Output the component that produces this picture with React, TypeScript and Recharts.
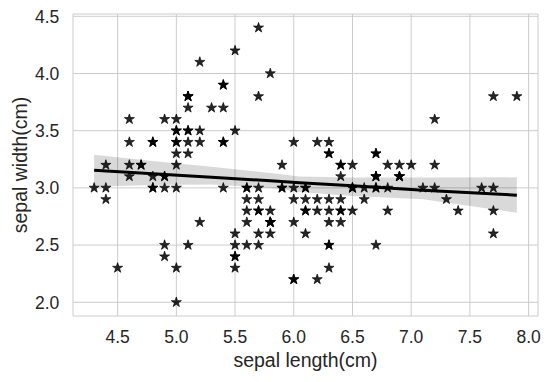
import React from "react";
import {
  ComposedChart,
  Scatter,
  Line,
  Area,
  XAxis,
  YAxis,
  CartesianGrid,
  ReferenceArea,
} from "recharts";

// Iris: sepal length / sepal width
const sepalLength = [
  5.1, 4.9, 4.7, 4.6, 5.0, 5.4, 4.6, 5.0, 4.4, 4.9, 5.4, 4.8, 4.8, 4.3, 5.8, 5.7, 5.4, 5.1, 5.7, 5.1,
  5.4, 5.1, 4.6, 5.1, 4.8, 5.0, 5.0, 5.2, 5.2, 4.7, 4.8, 5.4, 5.2, 5.5, 4.9, 5.0, 5.5, 4.9, 4.4, 5.1,
  5.0, 4.5, 4.4, 5.0, 5.1, 4.8, 5.1, 4.6, 5.3, 5.0,
  7.0, 6.4, 6.9, 5.5, 6.5, 5.7, 6.3, 4.9, 6.6, 5.2, 5.0, 5.9, 6.0, 6.1, 5.6, 6.7, 5.6, 5.8, 6.2, 5.6,
  5.9, 6.1, 6.3, 6.1, 6.4, 6.6, 6.8, 6.7, 6.0, 5.7, 5.5, 5.5, 5.8, 6.0, 5.4, 6.0, 6.7, 6.3, 5.6, 5.5,
  5.5, 6.1, 5.8, 5.0, 5.6, 5.7, 5.7, 6.2, 5.1, 5.7,
  6.3, 5.8, 7.1, 6.3, 6.5, 7.6, 4.9, 7.3, 6.7, 7.2, 6.5, 6.4, 6.8, 5.7, 5.8, 6.4, 6.5, 7.7, 7.7, 6.0,
  6.9, 5.6, 7.7, 6.3, 6.7, 7.2, 6.2, 6.1, 6.4, 7.2, 7.4, 7.9, 6.4, 6.3, 6.1, 7.7, 6.3, 6.4, 6.0, 6.9,
  6.7, 6.9, 5.8, 6.8, 6.7, 6.7, 6.3, 6.5, 6.2, 5.9,
];
const sepalWidth = [
  3.5, 3.0, 3.2, 3.1, 3.6, 3.9, 3.4, 3.4, 2.9, 3.1, 3.7, 3.4, 3.0, 3.0, 4.0, 4.4, 3.9, 3.5, 3.8, 3.8,
  3.4, 3.7, 3.6, 3.3, 3.4, 3.0, 3.4, 3.5, 3.4, 3.2, 3.1, 3.4, 4.1, 4.2, 3.1, 3.2, 3.5, 3.6, 3.0, 3.4,
  3.5, 2.3, 3.2, 3.5, 3.8, 3.0, 3.8, 3.2, 3.7, 3.3,
  3.2, 3.2, 3.1, 2.3, 2.8, 2.8, 3.3, 2.4, 2.9, 2.7, 2.0, 3.0, 2.2, 2.9, 2.9, 3.1, 3.0, 2.7, 2.2, 2.5,
  3.2, 2.8, 2.5, 2.8, 2.9, 3.0, 2.8, 3.0, 2.9, 2.6, 2.4, 2.4, 2.7, 2.7, 3.0, 3.4, 3.1, 2.3, 3.0, 2.5,
  2.6, 3.0, 2.6, 2.3, 2.7, 3.0, 2.9, 2.9, 2.5, 2.8,
  3.3, 2.7, 3.0, 2.9, 3.0, 3.0, 2.5, 2.9, 2.5, 3.6, 3.2, 2.7, 3.0, 2.5, 2.8, 3.2, 3.0, 3.8, 2.6, 2.2,
  3.2, 2.8, 2.8, 2.7, 3.3, 3.2, 2.8, 3.0, 2.8, 3.0, 2.8, 3.8, 2.8, 2.8, 2.6, 3.0, 3.4, 3.1, 3.0, 3.1,
  3.1, 3.1, 2.7, 3.2, 3.3, 3.0, 2.5, 3.0, 3.4, 3.0,
];

// Regression line and confidence band
const bandX = [4.3, 4.8, 5.3, 5.8, 6.05, 6.5, 7.1, 7.9];
const bandLow = [3.01, 3.025, 3.03, 3.0, 2.965, 2.93, 2.9, 2.783];
const bandHigh = [3.29, 3.235, 3.185, 3.13, 3.1, 3.09, 3.09, 3.092];
const fitY = [3.155, 3.124, 3.093, 3.062, 3.045, 3.018, 2.98, 2.936];

const xTicks = [4.5, 5.0, 5.5, 6.0, 6.5, 7.0, 7.5, 8.0];
const yTicks = [2.0, 2.5, 3.0, 3.5, 4.0, 4.5];

const points = sepalLength.map((x, i) => ({ x, y: sepalWidth[i] }));
const bandData = bandX.map((x, i) => ({
  x,
  range: [bandLow[i], bandHigh[i]],
  fit: fitY[i],
}));

const FONT = '"Liberation Sans", Arial, sans-serif';
const TEXT = "#262626";
const TICK_FS = 17.5;

const Star = (props: any) => {
  const { cx, cy } = props;
  if (cx == null || cy == null) return null;
  const R = 5.3;
  const r = R * 0.382;
  const pts: string[] = [];
  for (let k = 0; k < 10; k++) {
    const rad = k % 2 === 0 ? R : r;
    const a = -Math.PI / 2 + (k * Math.PI) / 5;
    pts.push(`${cx + rad * Math.cos(a)},${cy + rad * Math.sin(a)}`);
  }
  return (
    <polygon
      points={pts.join(" ")}
      fill="#000"
      fillOpacity={0.85}
      stroke="#000"
      strokeOpacity={0.85}
      strokeWidth={0.8}
      strokeLinejoin="round"
    />
  );
};

const XTick = (props: any) => {
  const { x, payload } = props;
  return (
    <text
      x={x}
      y={343.3}
      textAnchor="middle"
      fontFamily={FONT}
      fontSize={TICK_FS}
      fill={TEXT}
    >
      {Number(payload.value).toFixed(1)}
    </text>
  );
};

const YTick = (props: any) => {
  const { y, payload } = props;
  return (
    <text
      x={59.3}
      y={y + 6.3}
      textAnchor="end"
      fontFamily={FONT}
      fontSize={TICK_FS}
      fill={TEXT}
    >
      {Number(payload.value).toFixed(1)}
    </text>
  );
};

const XLabel = (props: any) => {
  const vb = props.viewBox || {};
  return (
    <text
      x={vb.x + vb.width / 2}
      y={367}
      textAnchor="middle"
      fontFamily={FONT}
      fontSize={19.5}
      fill={TEXT}
    >
      sepal length(cm)
    </text>
  );
};

const YLabel = (props: any) => {
  const vb = props.viewBox || {};
  const cy = vb.y + vb.height / 2;
  return (
    <text
      x={27}
      y={cy}
      transform={`rotate(-90, 27, ${cy})`}
      textAnchor="middle"
      fontFamily={FONT}
      fontSize={19.5}
      fill={TEXT}
    >
      sepal width(cm)
    </text>
  );
};

export default function App() {
  return (
    <div style={{ position: "absolute", left: 0, top: 0, background: "#fff" }}>
      <ComposedChart
        width={551}
        height={382}
        data={bandData}
        margin={{ top: 14, right: 13, bottom: 0, left: 0 }}
      >
        <CartesianGrid stroke="#cccccc" strokeWidth={1} />
        <XAxis
          type="number"
          dataKey="x"
          domain={[4.12, 8.08]}
          ticks={xTicks}
          allowDataOverflow
          height={66}
          axisLine={false}
          tickLine={false}
          tick={<XTick />}
          label={<XLabel />}
        />
        <YAxis
          type="number"
          domain={[1.88, 4.52]}
          ticks={yTicks}
          allowDataOverflow
          width={73}
          axisLine={false}
          tickLine={false}
          tick={<YTick />}
          label={<YLabel />}
        />
        <ReferenceArea
          fill="none"
          stroke="#cccccc"
          strokeWidth={1.5}
          ifOverflow="visible"
        />
        <Scatter
          data={points}
          dataKey="y"
          shape={<Star />}
          isAnimationActive={false}
        />
        <Area
          type="linear"
          dataKey="range"
          fill="#000"
          fillOpacity={0.15}
          stroke="none"
          dot={false}
          activeDot={false}
          isAnimationActive={false}
        />
        <Line
          type="linear"
          dataKey="fit"
          stroke="#000"
          strokeWidth={3}
          dot={false}
          activeDot={false}
          isAnimationActive={false}
        />
      </ComposedChart>
    </div>
  );
}
